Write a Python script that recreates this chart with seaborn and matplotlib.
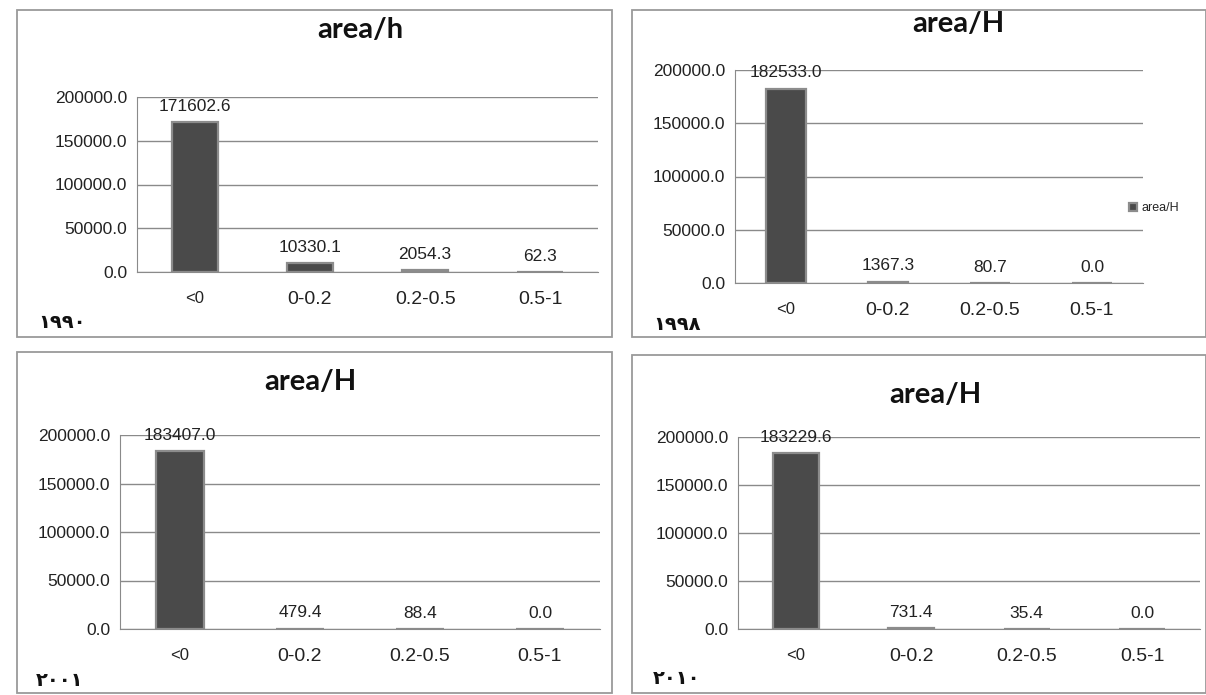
import matplotlib
matplotlib.use('Agg')
import matplotlib.pyplot as plt
from matplotlib.patches import Rectangle
import pandas as pd
import seaborn as sb

cats = ['<0', '0-0.2', '0.2-0.5', '0.5-1']
v1990 = [171602.6, 10330.1, 2054.3, 62.3]
v1998 = [182533.0, 1367.3, 80.7, 0.0]
v2001 = [183407.0, 479.4, 88.4, 0.0]
v2010 = [183229.6, 731.4, 35.4, 0.0]
titles = ['area/h', 'area/H', 'area/H', 'area/H']
years = ['١٩٩٠', '١٩٩٨', '٢٠٠١', '٢٠١٠']
yticks = [0, 50000, 100000, 150000, 200000]

W, H = 1206, 695

sb.set_style('white')
plt.rcParams['font.family'] = ['Liberation Sans', 'DejaVu Sans']

fig = plt.figure(figsize=(W / 100, H / 100), dpi=100)


def px(l, t, r, b):
    return [l / W, 1 - b / H, (r - l) / W, (b - t) / H]


# panel boxes (pixel coords) and axes boxes
boxes = [(17, 10, 612, 337), (632, 10, 1206, 337),
         (17, 352, 612, 693), (632, 355, 1206, 693)]
axboxes = [(137, 97, 598, 272), (735, 70, 1143, 283),
           (120, 435, 600, 629), (738, 437, 1200, 629)]
title_pos = [(360, 30), (958, 24), (310, 382), (935, 395)]
year_pos = [(38, 322), (653, 324), (36, 681), (653, 679)]

for (l, t, r, b) in boxes:
    fig.patches.append(Rectangle((l / W, 1 - b / H), (r - l) / W, (b - t) / H,
                                 transform=fig.transFigure, fill=False,
                                 edgecolor='#9a9a9a', lw=1.3))

data = [v1990, v1998, v2001, v2010]
for i, vals in enumerate(data):
    ax = fig.add_axes(px(*axboxes[i]))
    df = pd.DataFrame({'cat': cats, 'area': vals})
    sb.barplot(data=df, x='cat', y='area', color='#4a4a4a', width=0.4,
               edgecolor='#8c8c8c', linewidth=1.6, saturation=1, ax=ax,
               label='area/H')
    ax.set_ylim(0, 200000)
    ax.set_xlim(-0.5, 3.5)
    ax.set_yticks(yticks)
    ax.set_yticklabels(['%.1f' % v for v in yticks])
    ax.yaxis.grid(True, color='#8a8a8a', lw=1)
    ax.set_axisbelow(True)
    for s in ['top', 'right']:
        ax.spines[s].set_visible(False)
    for s in ['left', 'bottom']:
        ax.spines[s].set_color('#8a8a8a')
    ax.set_xlabel('')
    ax.set_ylabel('')
    ax.set_xticks([-0.5, 0.5, 1.5, 2.5, 3.5], minor=True)
    ax.tick_params(axis='x', which='minor', length=5, color='#8a8a8a', direction='out')
    ax.tick_params(axis='x', which='major', length=0, pad=14, labelsize=14, labelcolor='#222222')
    ax.tick_params(axis='y', length=4, color='#8a8a8a', pad=3, labelsize=12.5, labelcolor='#222222')
    ax.get_xticklabels()[0].set_fontsize(12)
    ax.bar_label(ax.containers[0], fmt='%.1f', padding=6, fontsize=12.5, color='#222222')
    if ax.get_legend() is not None:
        ax.get_legend().remove()
    if i == 1:
        ax.legend(loc='center left', bbox_to_anchor=(1118 / W, 1 - 208 / H),
                  bbox_transform=fig.transFigure, frameon=False, fontsize=9,
                  handlelength=0.6, handleheight=0.6, handletextpad=0.4)
    tx, ty = title_pos[i]
    fig.text(tx / W, 1 - ty / H, titles[i], ha='center', va='center',
             fontsize=21, fontweight='bold', family=['Lato', 'DejaVu Sans'], color='#111111')
    yx, yy = year_pos[i]
    fig.text(yx / W, 1 - yy / H, years[i], ha='left', va='center',
             fontsize=14, fontweight='bold', family=['DejaVu Sans'], color='#111111')

fig.savefig('out.png', dpi=100)
